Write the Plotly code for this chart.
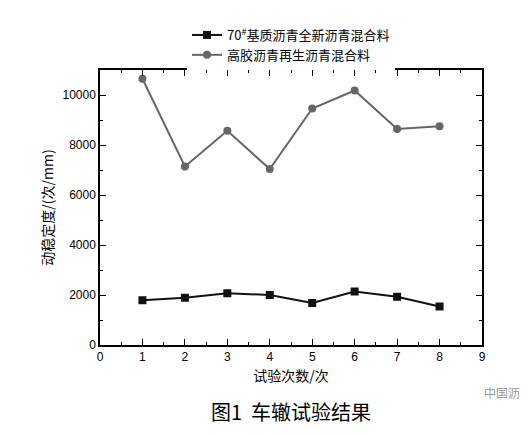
import plotly.graph_objects as go

x = [1, 2, 3, 4, 5, 6, 7, 8]
base_new = [1790, 1890, 2070, 2000, 1680, 2140, 1930, 1540]
recycled = [10650, 7140, 8570, 7040, 9460, 10180, 8640, 8750]
name1 = "70<sup>#</sup>基质沥青全新沥青混合料"
name2 = "高胶沥青再生沥青混合料"

fig = go.Figure()
fig.add_trace(go.Scatter(x=x, y=base_new, name=name1, mode="lines+markers",
    line=dict(color="#111", width=2), marker=dict(symbol="square", size=8, color="#111")))
fig.add_trace(go.Scatter(x=x, y=recycled, name=name2, mode="lines+markers",
    line=dict(color="#666", width=2), marker=dict(symbol="circle", size=8, color="#666")))

ax = dict(showline=True, linecolor="black", linewidth=1.5, mirror="ticks", ticks="inside",
          ticklen=6, tickcolor="black", showgrid=False, zeroline=False,
          tickfont=dict(family="Liberation Sans", size=12, color="black"))
fig.update_xaxes(**ax, range=[0, 9], dtick=1, minor=dict(ticks="inside", ticklen=3, dtick=0.5, tickcolor="black"),
    title=dict(text="试验次数/次", font=dict(family="Noto Sans CJK SC", size=14), standoff=8))
fig.update_yaxes(**ax, range=[0, 11000], dtick=2000, tickformat="d",
    minor=dict(ticks="inside", ticklen=3, dtick=1000, tickcolor="black"),
    title=dict(text="动稳定度/(次/mm)", font=dict(family="Noto Sans CJK SC", size=14), standoff=6))
fig.update_layout(width=528, height=435, paper_bgcolor="white", plot_bgcolor="white",
    margin=dict(l=92, r=54, t=30, b=98),
    font=dict(family="Noto Sans CJK SC", color="black"),
    legend=dict(orientation="h", x=0.5, xanchor="center", y=1.0, yanchor="bottom",
                font=dict(size=13), entrywidth=0, tracegroupgap=0, itemwidth=30,
                borderwidth=0))
fig.add_annotation(text="图1  车辙试验结果", x=0.5, xref="paper", y=-0.24, yref="paper",
                   yanchor="middle", showarrow=False, font=dict(size=20, family="Noto Sans CJK SC"))
fig.add_annotation(text="中国沥青网", x=1.0, xref="paper", y=-0.21, yref="paper", xanchor="left",
                   showarrow=False, font=dict(size=12, color="#999"))
fig.write_html("out.html")
